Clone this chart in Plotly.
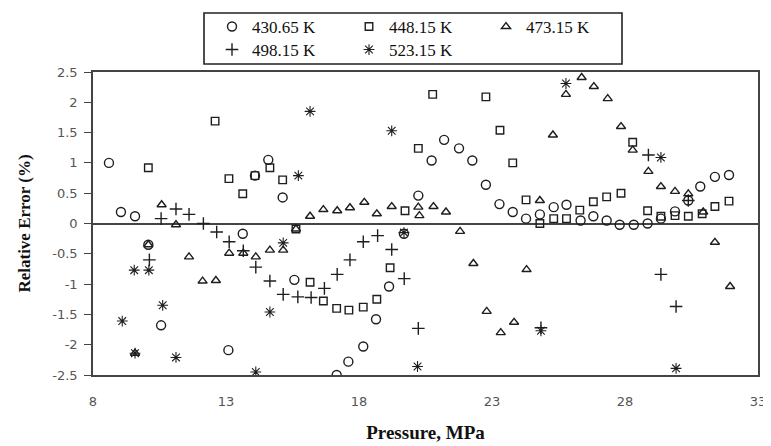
import plotly.graph_objects as go

# ---------------- data ----------------
p_430 = [8.6, 9.05, 9.58, 10.08, 10.56, 13.09, 13.63, 14.09, 14.59, 15.13, 15.57,
         17.16, 17.6, 18.16, 18.64, 19.13, 19.69, 20.23, 20.73, 21.2, 21.76, 22.26,
         22.77, 23.28, 23.78, 24.28, 24.8, 25.32, 25.8, 26.33, 26.81, 27.31, 27.8,
         28.33, 28.85, 29.35, 29.88, 30.38, 30.83, 31.38, 31.91]
e_430 = [1.0, 0.19, 0.12, -0.35, -1.68, -2.09, -0.17, 0.79, 1.05, 0.43, -0.93,
         -2.5, -2.28, -2.03, -1.58, -1.04, -0.17, 0.46, 1.04, 1.38, 1.24, 1.04,
         0.64, 0.32, 0.19, 0.08, 0.15, 0.27, 0.31, 0.05, 0.12, 0.05, -0.02,
         -0.02, 0.0, 0.08, 0.2, 0.38, 0.61, 0.77, 0.8]

p_448 = [10.08, 12.59, 13.11, 13.63, 14.09, 14.65, 15.13, 15.63, 16.16, 16.66, 17.16,
         17.62, 18.16, 18.67, 19.17, 19.73, 20.23, 20.77, 22.77, 23.3, 23.78, 24.28,
         24.8, 25.32, 25.8, 26.3, 26.81, 27.31, 27.85, 28.29, 28.85, 29.35, 29.88,
         30.38, 30.9, 31.38, 31.91]
e_448 = [0.92, 1.69, 0.74, 0.49, 0.79, 0.92, 0.72, -0.09, -0.97, -1.28, -1.4,
         -1.43, -1.38, -1.25, -0.73, 0.21, 1.24, 2.13, 2.09, 1.54, 1.0, 0.39,
         0.0, 0.08, 0.08, 0.22, 0.36, 0.44, 0.5, 1.34, 0.21, 0.12, 0.13,
         0.12, 0.16, 0.28, 0.37]

p_473 = [9.58, 10.08, 10.58, 11.12, 11.61, 12.12, 12.62, 13.12, 13.65, 14.12, 14.65,
         15.15, 15.63, 16.16, 16.66, 17.18, 17.66, 18.2, 18.67, 19.23, 20.23, 20.27,
         20.8, 21.27, 21.8, 22.3, 22.8, 23.33, 23.83, 24.3, 24.8, 25.29, 25.78,
         26.37, 26.83, 27.35, 27.85, 28.29, 28.88, 29.35, 29.88, 30.38, 30.94,
         31.38, 31.95]
e_473 = [-2.14, -0.35, 0.31, -0.02, -0.55, -0.95, -0.94, -0.49, -0.49, -0.55, -0.44,
         -0.44, -0.09, 0.12, 0.23, 0.21, 0.26, 0.35, 0.16, 0.28, 0.27, 0.13,
         0.28, 0.19, -0.13, -0.66, -1.45, -1.8, -1.63, -0.76, 0.38, 1.46, 2.13,
         2.41, 2.26, 2.06, 1.6, 1.21, 0.86, 0.61, 0.53, 0.49, 0.19,
         -0.31, -1.04]

p_498 = [10.12, 10.56, 11.12, 11.61, 12.15, 12.65, 13.12, 13.65, 14.12, 14.65, 15.15,
         15.7, 16.2, 16.7, 17.18, 17.66, 18.16, 18.7, 19.23, 19.7, 20.23, 24.84,
         28.88, 29.35, 29.92, 30.38]
e_498 = [-0.6, 0.08, 0.24, 0.15, 0.0, -0.14, -0.3, -0.45, -0.72, -0.95, -1.17,
         -1.21, -1.22, -1.07, -0.84, -0.6, -0.3, -0.2, -0.43, -0.91, -1.73, -1.72,
         1.13, -0.84, -1.37, 0.38]

p_523 = [9.1, 9.55, 9.58, 10.1, 10.62, 11.12, 14.12, 14.65, 15.15, 15.72, 16.16,
         19.23, 19.69, 20.2, 24.84, 25.78, 29.35, 29.92]
e_523 = [-1.61, -0.77, -2.14, -0.77, -1.35, -2.21, -2.45, -1.46, -0.32, 0.79, 1.85,
         1.53, -0.15, -2.36, -1.77, 2.31, 1.09, -2.39]

series_names = ["430.65 K", "448.15 K", "473.15 K", "498.15 K", "523.15 K"]
x_ticks = [8, 13, 18, 23, 28, 33]
y_ticks = [2.5, 2, 1.5, 1, 0.5, 0, -0.5, -1, -1.5, -2, -2.5]
y_ticktext = ["2.5", "2", "1.5", "1", "0.5", "0", "-0.5", "-1", "-1.5", "-2", "-2.5"]

# ---------------- figure ----------------
# the page body keeps its default 8 px margin, so the figure is sized/offset for it
W, H = 763, 438
ML, MR, MT, MB = 85, 13, 64, 71
PW, PH = W - ML - MR, H - MT - MB

INK = "#1e1e1e"
symbols = ["circle-open", "square-open", "triangle-up-open", "cross-thin-open", "asterisk-open"]
sizes = [9, 7.5, 8, 9, 9]
widths = [1.4, 1.4, 1.4, 1.4, 1.1]
legends = ["legend", "legend", "legend", "legend2", "legend2"]
xs = [p_430, p_448, p_473, p_498, p_523]
ys = [e_430, e_448, e_473, e_498, e_523]

fig = go.Figure()
for name, x, y, sym, sz, lw, lg in zip(series_names, xs, ys, symbols, sizes, widths, legends):
    fig.add_trace(go.Scatter(
        x=x, y=y, mode="markers", name=name, legend=lg,
        marker=dict(symbol=sym, size=sz, color=INK,
                    line=dict(color=INK, width=lw)),
    ))


def px_x(px):  # local pixel -> paper x
    return (px - ML) / PW


def px_y(py):  # local pixel (from top) -> paper y
    return (MT + PH - py) / PH


legend_common = dict(
    orientation="h", xanchor="left", yanchor="top",
    borderwidth=0, bgcolor="rgba(0,0,0,0)",
    font=dict(family="Liberation Serif", size=17, color="#111"),
    entrywidth=92, entrywidthmode="pixels", itemwidth=30,
    traceorder="normal",
)

fig.update_layout(
    width=W, height=H,
    margin=dict(l=ML, r=MR, t=MT, b=MB, autoexpand=False),
    paper_bgcolor="white", plot_bgcolor="white",
    showlegend=True,
    legend=dict(legend_common, x=px_x(204), y=px_y(1)),
    legend2=dict(legend_common, x=px_x(204), y=px_y(24)),
    shapes=[dict(type="rect", xref="paper", yref="paper",
                 x0=px_x(196), x1=px_x(614), y0=px_y(56), y1=px_y(5),
                 line=dict(color="#222", width=1.6), fillcolor="rgba(0,0,0,0)",
                 layer="above")],
)

fig.update_xaxes(
    range=[8, 33], tickvals=x_ticks, ticktext=[str(v) for v in x_ticks],
    showline=True, linecolor="#444", linewidth=1.6, mirror=True,
    showgrid=False, zeroline=False, ticks="",
    ticklabelstandoff=14,
    tickfont=dict(family="DejaVu Sans", size=13, color="#555"),
    title=dict(text="Pressure, MPa", standoff=17,
               font=dict(family="Liberation Serif", size=19, color="#111", weight="bold")),
    automargin=False,
)
fig.update_yaxes(
    range=[-2.5, 2.5], tickvals=y_ticks, ticktext=y_ticktext,
    showline=True, linecolor="#444", linewidth=1.6, mirror=True,
    showgrid=False, zeroline=True, zerolinecolor="#444", zerolinewidth=2,
    ticks="outside", ticklen=7, tickcolor="#444", tickwidth=1.2,
    ticklabelstandoff=4,
    tickfont=dict(family="DejaVu Sans", size=13, color="#555"),
    title=dict(text="Relative Error (%)", standoff=17,
               font=dict(family="Liberation Serif", size=17, color="#111", weight="bold")),
    automargin=False,
)

fig.write_html("out.html")
